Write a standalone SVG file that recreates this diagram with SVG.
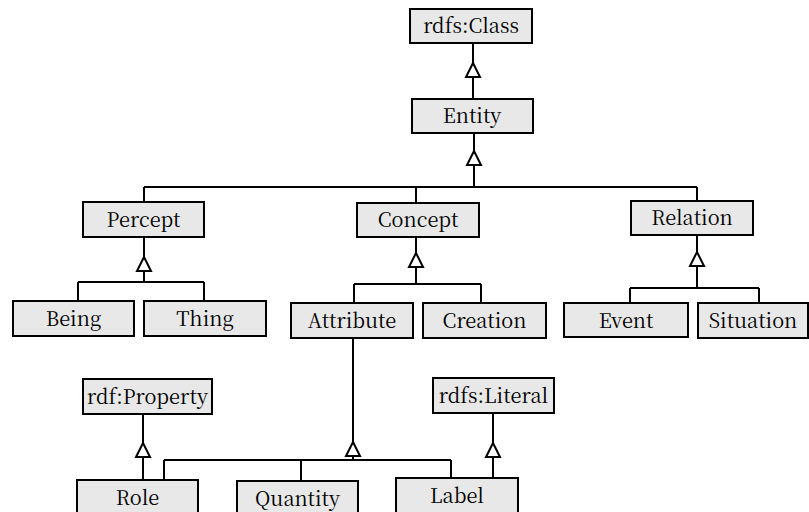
<svg xmlns="http://www.w3.org/2000/svg" xmlns:xlink="http://www.w3.org/1999/xlink" width="809" height="512" viewBox="0 0 809 512">
<style>
.box{fill:#e8e8e8;stroke:#000;stroke-width:2}
.lbl{font-family:"Noto Serif CJK SC","Liberation Serif",serif;font-size:20px;fill:#000;text-anchor:middle}
.ln{fill:none;stroke:#000;stroke-width:2}
.tri{fill:#fff;stroke:#000;stroke-width:2;stroke-linejoin:miter}
</style>
<defs>
<path id="tri" class="tri" d="M0,0 L7,14 L-7,14 Z"/>
</defs>
<rect width="809" height="512" fill="#fff"/>
<g id="connectors">
<path class="ln" d="M473,43 V133"/>
<use xlink:href="#tri" href="#tri" x="473" y="63"/>
<path class="ln" d="M474,133 V187 M144,187 H697 M144,187 V202 M416,187 V203 M697,187 V201"/>
<use xlink:href="#tri" href="#tri" x="474" y="151"/>
<path class="ln" d="M144,237 V282 M78,282 H204 M78,282 V301 M204,282 V301"/>
<use xlink:href="#tri" href="#tri" x="144" y="257"/>
<path class="ln" d="M416,237 V284 M354,284 H481 M354,284 V303 M481,284 V303"/>
<use xlink:href="#tri" href="#tri" x="416" y="253"/>
<path class="ln" d="M697,235 V288 M630,288 H759 M630,288 V303 M759,288 V303"/>
<use xlink:href="#tri" href="#tri" x="697" y="252"/>
<path class="ln" d="M353,338 V460 M164,460 H451 M164,460 V480 M301,460 V481 M451,460 V478"/>
<use xlink:href="#tri" href="#tri" x="353" y="442"/>
<path class="ln" d="M143,414 V480"/>
<use xlink:href="#tri" href="#tri" x="143" y="443"/>
<path class="ln" d="M493,413 V478"/>
<use xlink:href="#tri" href="#tri" x="493" y="443"/>
</g>
<g id="rdfs-class"><rect class="box" x="410" y="9" width="122" height="34"/><text class="lbl" x="471" y="33">rdfs:Class</text></g>
<g id="entity"><rect class="box" x="412" y="99" width="121" height="34"/><text class="lbl" x="472" y="123">Entity</text></g>
<g id="percept"><rect class="box" x="83" y="202" width="121" height="35"/><text class="lbl" x="143.5" y="227">Percept</text></g>
<g id="concept"><rect class="box" x="357" y="203" width="122" height="34"/><text class="lbl" x="418" y="227">Concept</text></g>
<g id="relation"><rect class="box" x="631" y="201" width="122" height="34"/><text class="lbl" x="692" y="225">Relation</text></g>
<g id="being"><rect class="box" x="13" y="301" width="121" height="35"/><text class="lbl" x="73.5" y="326">Being</text></g>
<g id="thing"><rect class="box" x="144" y="301" width="122" height="35"/><text class="lbl" x="205" y="326">Thing</text></g>
<g id="attribute"><rect class="box" x="291" y="303" width="122" height="35"/><text class="lbl" x="352" y="328">Attribute</text></g>
<g id="creation"><rect class="box" x="423" y="303" width="123" height="35"/><text class="lbl" x="484.5" y="328">Creation</text></g>
<g id="event"><rect class="box" x="564" y="303" width="124" height="34"/><text class="lbl" x="626" y="328">Event</text></g>
<g id="situation"><rect class="box" x="698" y="303" width="110" height="35"/><text class="lbl" x="753" y="328">Situation</text></g>
<g id="rdf-property"><rect class="box" x="83" y="379" width="129" height="35"/><text class="lbl" x="147.5" y="404">rdf:Property</text></g>
<g id="rdfs-literal"><rect class="box" x="433" y="378" width="121" height="35"/><text class="lbl" x="493.5" y="403">rdfs:Literal</text></g>
<g id="role"><rect class="box" x="77" y="480" width="121" height="35"/><text class="lbl" x="137.5" y="505">Role</text></g>
<g id="quantity"><rect class="box" x="237" y="481" width="121" height="35"/><text class="lbl" x="297.5" y="506">Quantity</text></g>
<g id="label"><rect class="box" x="396" y="478" width="122" height="35"/><text class="lbl" x="457" y="503">Label</text></g>
</svg>
